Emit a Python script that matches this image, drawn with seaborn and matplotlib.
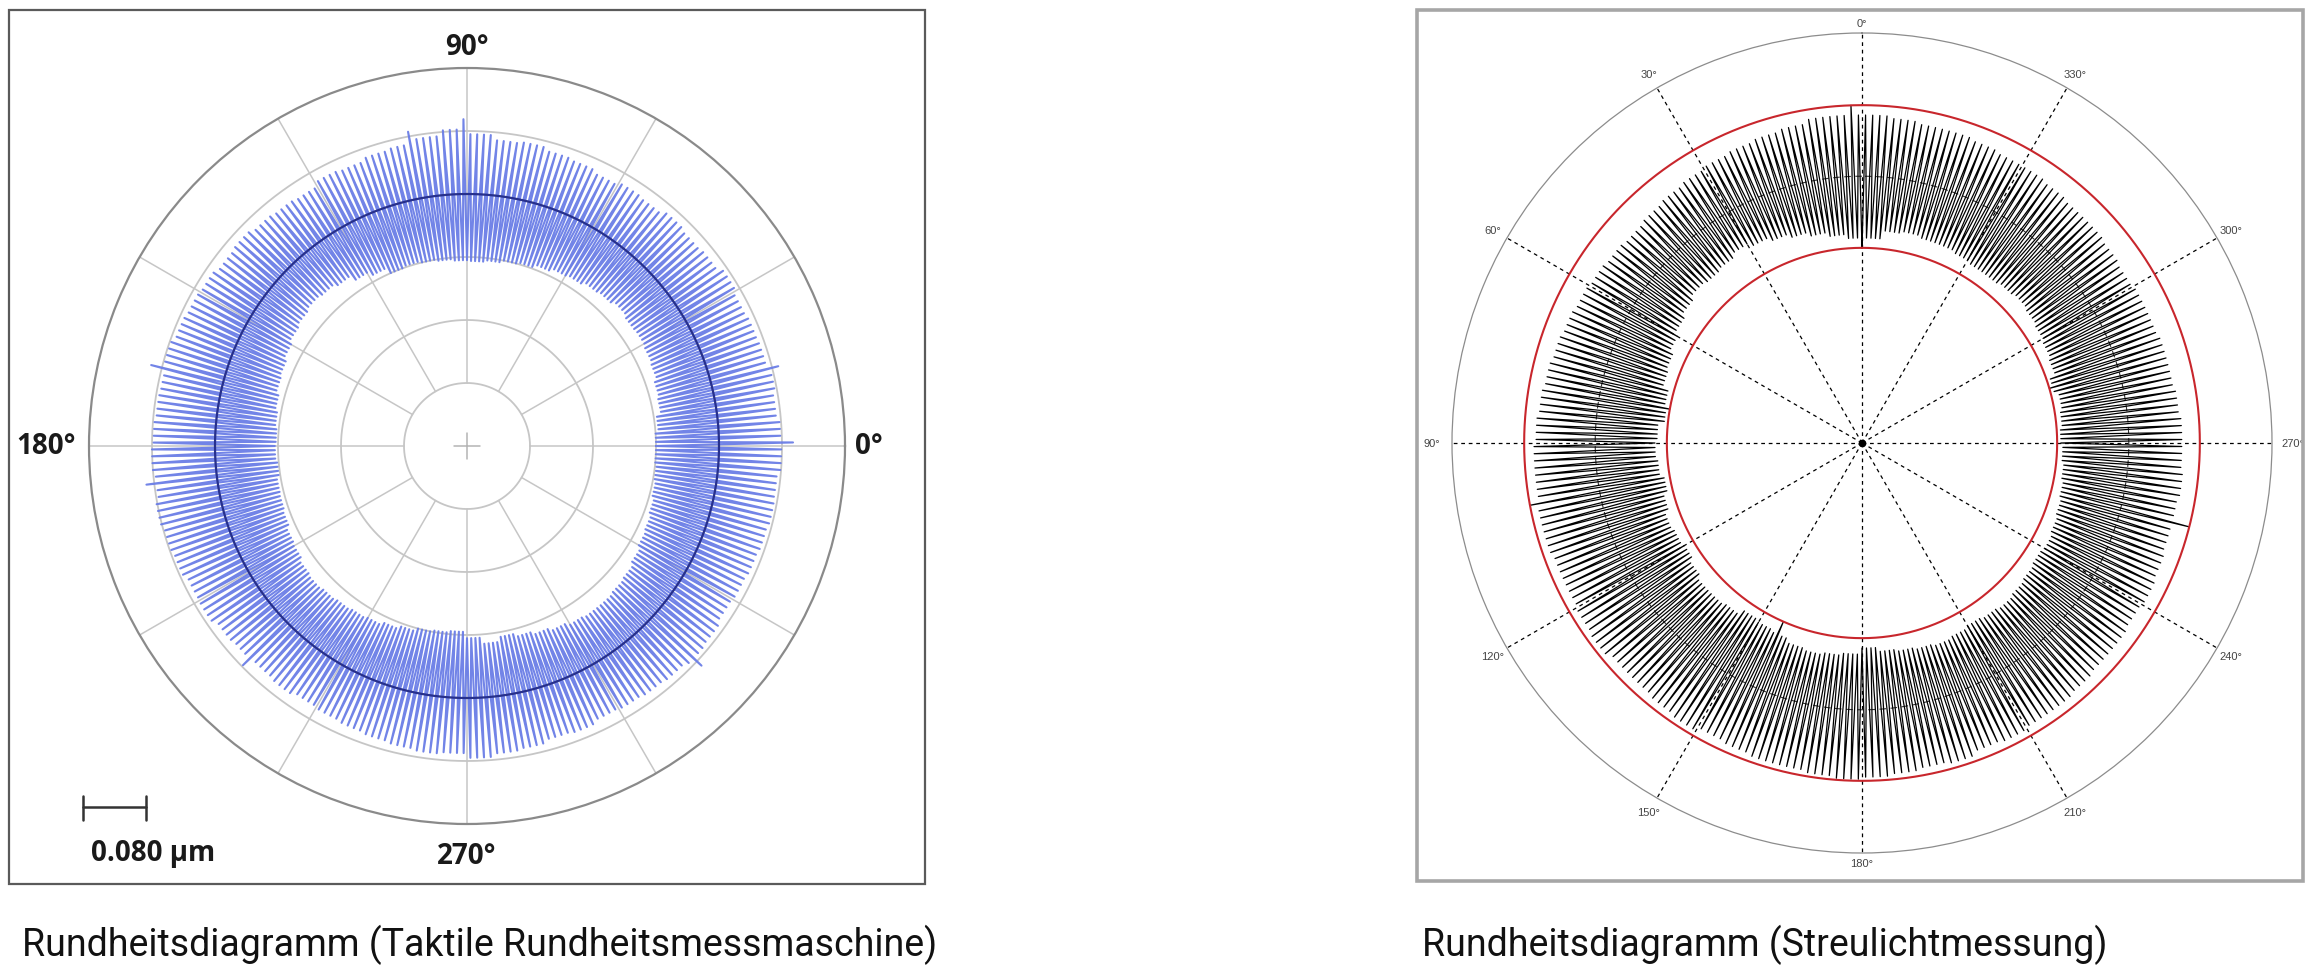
import numpy as np
import matplotlib
matplotlib.use('Agg')
import matplotlib.pyplot as plt
from matplotlib.lines import Line2D
from matplotlib.patches import Rectangle
import seaborn as sns

W, H = 2318, 970          # output size in px (dpi 100)

# ── Data: profile envelope per 5° sector (0°, 5°, ..., 355°) ─────────────
TEETH_PER_SECTOR = 4

# tactile roundness machine: deviation from reference circle in µm
TACT_PEAK_UM = [
    .078, .074, .077, .073, .072, .070, .074, .068, .066, .069, .064, .066,
    .062, .066, .068, .072, .070, .076, .082, .075, .070, .068, .064, .066,
    .060, .062, .064, .068, .066, .070, .072, .074, .078, .075, .076, .078,
    .080, .077, .081, .078, .076, .072, .073, .068, .066, .064, .066, .062,
    .064, .066, .068, .070, .072, .070, .076, .072, .070, .066, .068, .064,
    .066, .068, .070, .074, .072, .068, .070, .072, .074, .076, .075, .079]
TACT_VALLEY_UM = [
    -.080, -.076, -.070, -.068, -.064, -.062, -.060, -.061, -.058, -.062, -.064, -.068,
    -.070, -.074, -.078, -.080, -.083, -.085, -.084, -.082, -.080, -.078, -.080, -.072,
    -.066, -.058, -.054, -.052, -.055, -.058, -.062, -.066, -.068, -.072, -.075, -.077,
    -.076, -.078, -.075, -.074, -.072, -.068, -.066, -.062, -.060, -.062, -.064, -.066,
    -.068, -.072, -.076, -.080, -.082, -.084, -.076, -.068, -.074, -.070, -.066, -.062,
    -.058, -.056, -.056, -.058, -.060, -.064, -.068, -.070, -.073, -.076, -.078, -.080]
TACT_LONG_PEAKS = [(0, .094), (14, .088), (90, .095), (100, .086),
                   (165, .094), (186, .090), (224, .078), (316, .088)]
TACT_REF_UM = 0.32        # reference circle radius on the chart
TACT_RING_UM = 0.08       # grid ring spacing = scale bar
TACT_LABELS = [0, 90, 180, 270]

# scattered light: radius relative to outer chart circle
SCAT_PEAK = [
    .800, .800, .790, .785, .780, .775, .770, .765, .760, .755, .760, .765,
    .770, .775, .780, .785, .790, .795, .800, .800, .805, .805, .800, .800,
    .805, .810, .800, .800, .805, .810, .800, .805, .810, .810, .815, .820,
    .815, .810, .805, .810, .800, .805, .800, .800, .795, .790, .790, .785,
    .790, .785, .780, .780, .785, .780, .780, .775, .770, .770, .765, .765,
    .760, .765, .770, .770, .775, .780, .780, .785, .790, .790, .795, .800]
SCAT_VALLEY = [
    .500, .510, .520, .530, .540, .550, .560, .550, .545, .550, .540, .530,
    .520, .510, .505, .490, .485, .500, .505, .500, .490, .500, .510, .505,
    .500, .510, .520, .520, .515, .500, .505, .510, .520, .525, .520, .515,
    .500, .510, .515, .520, .525, .520, .515, .520, .525, .520, .515, .510,
    .515, .510, .505, .500, .495, .490, .485, .490, .495, .485, .500, .505,
    .510, .515, .520, .515, .510, .510, .515, .520, .520, .525, .520, .500]
SCAT_LONG_PEAKS = [(1, .824), (100, .824), (255, .824)]
SCAT_DEEP_VALLEYS = [(0, .476), (80, .476), (156, .476), (286, .476)]
SCAT_LABELS = list(range(0, 360, 30))

CAPTIONS = ['Rundheitsdiagramm (Taktile Rundheitsmessmaschine)',
            'Rundheitsdiagramm (Streulichtmessung)']

# ── Style ───────────────────────────────────────────────────────────────
sns.set_theme(style='white')
plt.rcParams['font.family'] = ['Roboto', 'DejaVu Sans']

BLUE_SPIKE = '#6a7de6'
BLUE_MEAN = '#27308c'
GRID = '#c6c6c6'
RED = '#c8262c'


def fx(px):
    return px / W


def fy(py):
    return 1 - py / H


def zigzag(peak, valley, long_peaks=(), deep_valleys=()):
    n = len(peak) * TEETH_PER_SECTOR
    step = 360 / n
    hi = np.repeat(np.asarray(peak, float), TEETH_PER_SECTOR)
    lo = np.repeat(np.asarray(valley, float), TEETH_PER_SECTOR)
    for a, v in long_peaks:
        hi[int(round(a / step)) % n] = v
    for a, v in deep_valleys:
        lo[int(round(a / step)) % n] = v
    ang = np.empty(2 * n + 1)
    rad = np.empty(2 * n + 1)
    ang[0:2 * n:2] = np.arange(n) * step
    ang[1:2 * n:2] = np.arange(n) * step + step / 2
    rad[0:2 * n:2] = lo
    rad[1:2 * n:2] = hi
    ang[-1], rad[-1] = 360, lo[0]
    return np.deg2rad(ang), rad


def circle(ax, r, **kw):
    t = np.linspace(0, 2 * np.pi, 721)
    ax.plot(t, np.full_like(t, r), **kw)


def polar_axes(fig, cx, cy, R):
    ax = fig.add_axes([fx(cx - R), fy(cy + R), 2 * R / W, 2 * R / H],
                      projection='polar')
    ax.set_xticks([])
    ax.set_yticks([])
    ax.grid(False)
    ax.set_facecolor('none')
    return ax


fig = plt.figure(figsize=(W / 100, H / 100), dpi=100, facecolor='white')

# frames
fig.add_artist(Rectangle((fx(9), fy(885)), fx(925) - fx(9), fy(11) - fy(885),
                         transform=fig.transFigure, fill=False,
                         edgecolor='#5a5a5a', linewidth=1.6))
fig.add_artist(Rectangle((fx(1417), fy(882)), fx(2303) - fx(1417), fy(11) - fy(882),
                         transform=fig.transFigure, fill=False,
                         edgecolor='#a6a6a6', linewidth=2.6))

# ── Left: tactile roundness machine ─────────────────────────────────────
L_R = 378
axl = polar_axes(fig, 467, 447, L_R)
r_max = 6 * TACT_RING_UM
axl.set_ylim(0, r_max)
axl.spines['polar'].set_color('#8a8a8a')
axl.spines['polar'].set_linewidth(1.6)

for k in range(1, 6):
    circle(axl, k * TACT_RING_UM, color=GRID, lw=1.3, zorder=1)
for a in range(0, 360, 30):
    t = np.deg2rad(a)
    axl.plot([t, t], [TACT_RING_UM, r_max], color=GRID, lw=1.1, zorder=1)
    if a % 90 == 0:
        axl.plot([t, t], [0, 0.0165], color='#b4b4b4', lw=1.1, zorder=1)

th, dev = zigzag(TACT_PEAK_UM, TACT_VALLEY_UM, TACT_LONG_PEAKS)
sns.lineplot(x=th, y=dev + TACT_REF_UM, ax=axl, sort=False, estimator=None,
             color=BLUE_SPIKE, linewidth=1.5, alpha=0.95, zorder=3)
circle(axl, TACT_REF_UM, color=BLUE_MEAN, lw=1.6, zorder=4)
axl.set_ylim(0, r_max)

lab_r = {0: 0.510, 90: 0.507, 180: 0.535, 270: 0.520}
for a in TACT_LABELS:
    axl.text(np.deg2rad(a), lab_r[a], f'{a}°', ha='center', va='center',
             fontsize=20, fontweight='bold', family=['Open Sans', 'DejaVu Sans'],
             color='#1a1a1a')

# scale bar (one grid ring)
bar = L_R * TACT_RING_UM / r_max
x0, yb = 83, 808
for xs, ys in [([x0, x0 + bar], [yb, yb]), ([x0, x0], [797, 821]),
               ([x0 + bar, x0 + bar], [797, 821])]:
    fig.add_artist(Line2D([fx(v) for v in xs], [fy(v) for v in ys],
                          transform=fig.transFigure, color='#333333', lw=1.8))
fig.text(fx(91), fy(854), f'{TACT_RING_UM:.3f} µm', ha='left', va='center',
         fontsize=20, fontweight='bold', family=['Open Sans', 'DejaVu Sans'],
         color='#1a1a1a')

# ── Right: scattered light measurement ─────────────────────────────────
axr = polar_axes(fig, 1862, 444, 410)
axr.set_theta_zero_location('N')
axr.set_theta_direction(1)
axr.set_ylim(0, 1.0)
axr.spines['polar'].set_color('#8c8c8c')
axr.spines['polar'].set_linewidth(0.9)

for a in range(0, 360, 30):
    t = np.deg2rad(a)
    axr.plot([t, t], [0, 1.0], color='black', lw=0.9, ls=(0, (3, 3)), zorder=1)

th, rad = zigzag(SCAT_PEAK, SCAT_VALLEY, SCAT_LONG_PEAKS, SCAT_DEEP_VALLEYS)
sns.lineplot(x=th, y=rad, ax=axr, sort=False, estimator=None,
             color='black', linewidth=0.9, zorder=3)
circle(axr, rad.max(), color=RED, lw=1.5, zorder=4)
circle(axr, rad.min(), color=RED, lw=1.5, zorder=4)
circle(axr, rad.mean(), color='#333333', lw=0.8, ls=(0, (6, 4)), zorder=2)
axr.plot(0, 0, 'o', ms=4.5, color='black', zorder=5)
axr.set_ylim(0, 1.0)

for a in SCAT_LABELS:
    r = 1.025 if a % 180 == 0 else (1.05 if a % 90 == 0 else 1.04)
    axr.text(np.deg2rad(a), r, f'{a}°', ha='center', va='center',
             fontsize=8, family=['Liberation Sans', 'DejaVu Sans'], color='#444444')

# captions
fig.text(fx(22), fy(956), CAPTIONS[0], ha='left', va='baseline',
         fontsize=27, color='#111111')
fig.text(fx(1422), fy(956), CAPTIONS[1], ha='left', va='baseline',
         fontsize=27, color='#111111')

fig.savefig('out.png', dpi=100, facecolor='white')
